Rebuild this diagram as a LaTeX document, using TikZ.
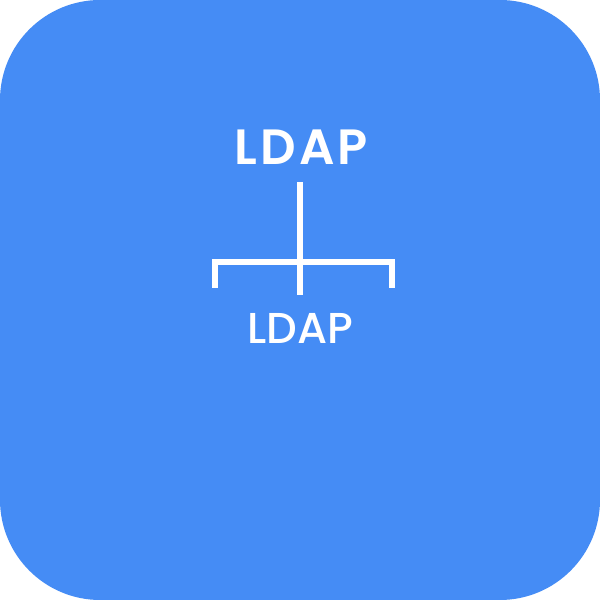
\documentclass[tikz,border=0pt]{standalone}
\usepackage{fontspec}
\setmainfont{Poppins}
\newfontfamily\poppinsmed{Poppins Medium}
\newfontfamily\poppinssemi[LetterSpace=6]{Poppins SemiBold}
\usepackage{tikz}
\usetikzlibrary{positioning}
\definecolor{appblue}{RGB}{69,140,245}

\begin{document}
\begin{tikzpicture}[every node/.style={text=white, inner sep=0pt},
  branch/.style={draw=white, line width=2.9pt}]
% Fond
\fill[white] (0,0) rectangle (10,10);
\fill[appblue, rounded corners=1.67cm] (0,0) rectangle (10,10);

% Textes
\node[anchor=base, font=\fontsize{23.5}{26}\poppinssemi] (ldaptop) at (5.02,7.25) {LDAP};
\node[anchor=base, font=\fontsize{20.5}{23}\poppinsmed] (ldapbot) at (5,4.28) {LDAP};

% Arbre
\coordinate (stemtop) at (5,6.97);
\coordinate (stembot) at (5,5.08);
\coordinate (barl) at (3.58,5.63);
\coordinate (barr) at (6.53,5.63);
\coordinate (tickl) at (3.58,5.20);
\coordinate (tickr) at (6.53,5.20);
\draw[branch] (stemtop) -- (stembot);
\draw[branch] (tickl) -- (barl) -- (barr) -- (tickr);
\end{tikzpicture}
\end{document}
